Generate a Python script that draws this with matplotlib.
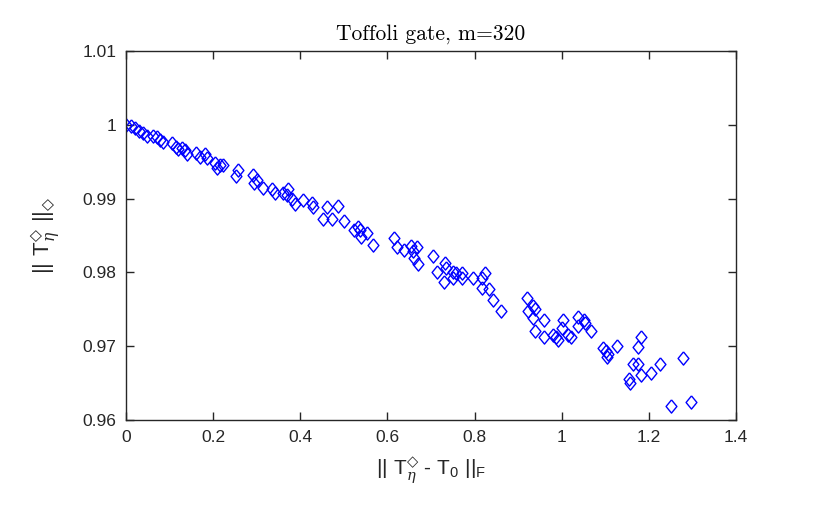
import matplotlib
matplotlib.use("Agg")
import matplotlib.pyplot as plt
from matplotlib.ticker import FixedLocator, FixedFormatter

# ||T_eta - T_0||_F
norm_diff = [
    0.000, 0.011, 0.021, 0.030, 0.039, 0.048, 0.062, 0.070, 0.078, 0.084,
    0.105, 0.115, 0.119, 0.128, 0.135, 0.140, 0.161, 0.170, 0.181, 0.185,
    0.204, 0.216, 0.222, 0.209, 0.257, 0.252, 0.291, 0.294, 0.300, 0.314,
    0.334, 0.342, 0.360, 0.372, 0.370, 0.380, 0.388, 0.406, 0.428, 0.430,
    0.462, 0.451, 0.472, 0.487, 0.500, 0.523, 0.533, 0.537, 0.539, 0.554,
    0.566, 0.616, 0.621, 0.638, 0.653, 0.658, 0.667, 0.661, 0.671, 0.705,
    0.732, 0.734, 0.713, 0.730, 0.751, 0.757, 0.751, 0.772, 0.772, 0.797,
    0.818, 0.824, 0.818, 0.832, 0.842, 0.860, 0.920, 0.923, 0.933, 0.939,
    0.933, 0.939, 0.959, 0.959, 0.981, 0.988, 1.002, 1.000, 0.992, 1.015,
    1.021, 1.038, 1.038, 1.051, 1.053, 1.067, 1.095, 1.102, 1.107, 1.103,
    1.128, 1.182, 1.176, 1.163, 1.174, 1.155, 1.157, 1.182, 1.204, 1.226,
    1.279, 1.250, 1.297,
]
# ||T_eta||_diamond
dnorm = [
    1.0000, 0.9998, 0.9996, 0.9991, 0.9989, 0.9985, 0.9985, 0.9983, 0.9979, 0.9977,
    0.9975, 0.9970, 0.9967, 0.9969, 0.9966, 0.9960, 0.9962, 0.9957, 0.9960, 0.9955,
    0.9948, 0.9946, 0.9945, 0.9941, 0.9939, 0.9931, 0.9932, 0.9921, 0.9925, 0.9914,
    0.9913, 0.9908, 0.9907, 0.9913, 0.9905, 0.9899, 0.9892, 0.9898, 0.9894, 0.9889,
    0.9889, 0.9872, 0.9872, 0.9890, 0.9870, 0.9857, 0.9862, 0.9857, 0.9848, 0.9853,
    0.9837, 0.9846, 0.9834, 0.9831, 0.9836, 0.9829, 0.9834, 0.9820, 0.9812, 0.9822,
    0.9813, 0.9806, 0.9801, 0.9787, 0.9801, 0.9799, 0.9793, 0.9799, 0.9793, 0.9793,
    0.9793, 0.9799, 0.9779, 0.9778, 0.9763, 0.9748, 0.9765, 0.9747, 0.9754, 0.9750,
    0.9738, 0.9721, 0.9736, 0.9712, 0.9715, 0.9713, 0.9736, 0.9724, 0.9709, 0.9715,
    0.9713, 0.9739, 0.9727, 0.9736, 0.9732, 0.9720, 0.9698, 0.9693, 0.9689, 0.9686,
    0.9700, 0.9712, 0.9699, 0.9676, 0.9676, 0.9655, 0.9650, 0.9661, 0.9663, 0.9676,
    0.9684, 0.9619, 0.9625,
]

xticks = [0, 0.2, 0.4, 0.6, 0.8, 1.0, 1.2, 1.4]
xtick_labels = ["0", "0.2", "0.4", "0.6", "0.8", "1", "1.2", "1.4"]
yticks = [0.96, 0.97, 0.98, 0.99, 1.0, 1.01]
ytick_labels = ["0.96", "0.97", "0.98", "0.99", "1", "1.01"]

plt.rcParams["font.family"] = ["Liberation Sans", "DejaVu Sans"]
plt.rcParams["mathtext.fontset"] = "custom"
plt.rcParams["mathtext.rm"] = "Liberation Sans"
plt.rcParams["mathtext.sf"] = "DejaVu Sans"
plt.rcParams["mathtext.it"] = "DejaVu Serif:italic"

axcol = (0.15, 0.15, 0.15)

fig = plt.figure(figsize=(8.34, 5.15), dpi=100)
ax = fig.add_axes([0.1511, 0.1845, 0.7314, 0.7165])

# MATLAB-like diamond, a little taller than wide
diamond = [(0, 1), (0.82, 0), (0, -1), (-0.82, 0), (0, 1)]
ax.plot(norm_diff, dnorm, linestyle="none", marker=diamond, markersize=9.5,
        markerfacecolor="none", markeredgecolor=(0, 0, 1), markeredgewidth=1.0)

ax.set_xlim(0, 1.4)
ax.set_ylim(0.96, 1.01)
ax.xaxis.set_major_locator(FixedLocator(xticks))
ax.xaxis.set_major_formatter(FixedFormatter(xtick_labels))
ax.yaxis.set_major_locator(FixedLocator(yticks))
ax.yaxis.set_major_formatter(FixedFormatter(ytick_labels))
ax.tick_params(direction="in", length=6, width=1, colors=axcol, labelsize=12.5,
               top=True, right=True, pad=7)
for s in ax.spines.values():
    s.set_color(axcol)
    s.set_linewidth(1)

ax.set_title("Toffoli gate, m=320", family="cmr10", fontsize=15.5, pad=8)
ax.set_xlabel(r"$||\ \mathrm{T}^{\mathsf{◇}}_{\eta}$ - $\mathrm{T}_{0}\ ||_{\mathrm{F}}$",
              fontsize=15, color=axcol, labelpad=8)
ax.set_ylabel(r"$||\ \mathrm{T}^{\mathsf{◇}}_{\eta}\ ||_{\mathsf{◇}}$",
              fontsize=16, color=axcol, labelpad=14)

fig.savefig("out.png", dpi=100)
